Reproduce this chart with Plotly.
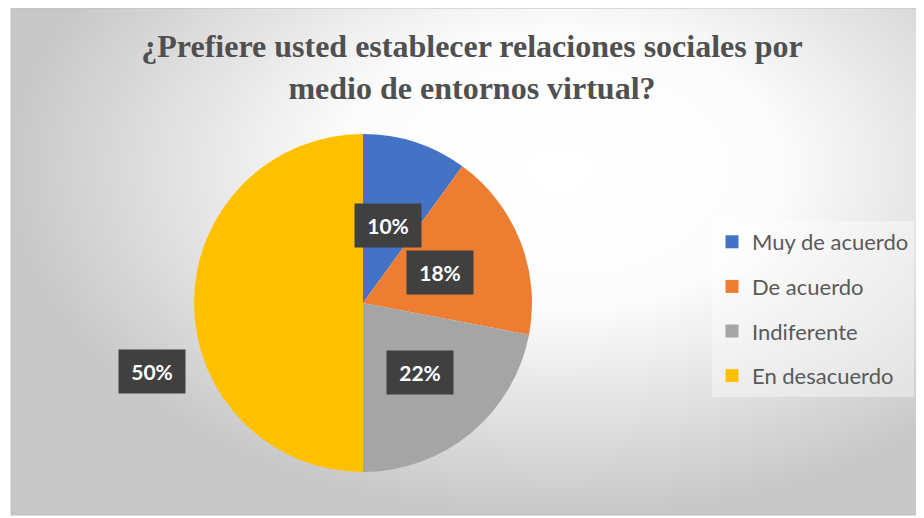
import math
import plotly.graph_objects as go

# ---- data ----
labels = ["Muy de acuerdo", "De acuerdo", "Indiferente", "En desacuerdo"]
values = [10, 18, 22, 50]
text_labels = ["10%", "18%", "22%", "50%"]
colors = ["#4472C4", "#ED7D31", "#A5A5A5", "#FFC000"]
title_text = "¿Prefiere usted establecer relaciones sociales por<br>medio de entornos virtual?"

# ---- layout helpers (page pixel -> plot-fraction) ----
OFF = 8  # default body margin of the html page
W, H = 924, 518
ML, MR, MT, MB = 3, 0, 0, 11
PW, PH = W - ML - MR, H - MT - MB


def fx(px):
    return (px - OFF - ML) / PW


def fy(py):
    return (H - MB - (py - OFF)) / PH


# pie geometry (page pixels)
CX, CY, R = 363, 303, 169
label_r = [0.48, 0.49, 0.53, 1.31]
label_shift = [0, 0, 0, -18]

fig = go.Figure()

# background gradient (radial, light center)
gcx, gcy = fx(560), fy(170)
bx1, by1 = 2 * gcx, 2 * gcy
fig.add_trace(go.Scatter(
    x=[0, bx1, bx1, 0, 0], y=[0, 0, by1, by1, 0],
    mode="lines", line=dict(width=0), fill="toself",
    fillgradient=dict(type="radial",
                      colorscale=[[0, "#ffffff"], [0.4, "#fcfcfc"], [1, "#c8c8c8"]]),
    hoverinfo="skip", showlegend=False,
))

# legend entries
for lab, col in zip(labels, colors):
    fig.add_trace(go.Scatter(
        x=[None], y=[None], mode="markers", name=lab, legendgroup=lab,
        marker=dict(symbol="square", size=13, color=col),
        showlegend=True,
    ))

fig.add_trace(go.Pie(
    labels=labels, values=values, sort=False, direction="clockwise", rotation=0,
    marker=dict(colors=colors, line=dict(width=0)),
    textinfo="none", showlegend=False,
    domain=dict(x=[fx(CX - R), fx(CX + R)], y=[fy(CY + R), fy(CY - R)]),
))

# data labels
total = sum(values)
cum = 0
for v, t, rf, sh in zip(values, text_labels, label_r, label_shift):
    mid = (cum + v / 2) / total * 360 + sh
    cum += v
    a = math.radians(mid)
    px = CX + rf * R * math.sin(a)
    py = CY - rf * R * math.cos(a)
    fig.add_annotation(
        x=fx(px), y=fy(py), xref="paper", yref="paper", text=t, showarrow=False,
        font=dict(family="Lato", size=21, color="#ffffff", weight=700),
        bgcolor="#404040", width=64, height=41, xanchor="center", yanchor="middle",
    )

# chart border
fig.add_shape(type="rect", xref="paper", yref="paper", x0=0, x1=1.01, y0=0, y1=1,
              line=dict(color="#bfbfbf", width=1), layer="above")

fig.update_layout(
    width=W, height=H,
    margin=dict(l=ML, r=MR, t=MT, b=MB),
    paper_bgcolor="#ffffff", plot_bgcolor="#ffffff",
    xaxis=dict(visible=False, range=[0, 1], fixedrange=True),
    yaxis=dict(visible=False, range=[0, 1], fixedrange=True),
    title=dict(text=title_text, x=(472 - OFF) / W, xanchor="center", xref="container",
               y=1 - (57 - OFF) / H, yanchor="middle", yref="container",
               font=dict(family="Liberation Serif", size=32, color="#505050", weight=700)),
    legend=dict(x=fx(712), y=fy(221), xanchor="left", yanchor="top",
                bgcolor="rgba(255,255,255,0.4)", traceorder="grouped", tracegroupgap=13,
                font=dict(family="Lato", size=22, color="#595959")),
    showlegend=True,
)

fig.write_html("out.html")
